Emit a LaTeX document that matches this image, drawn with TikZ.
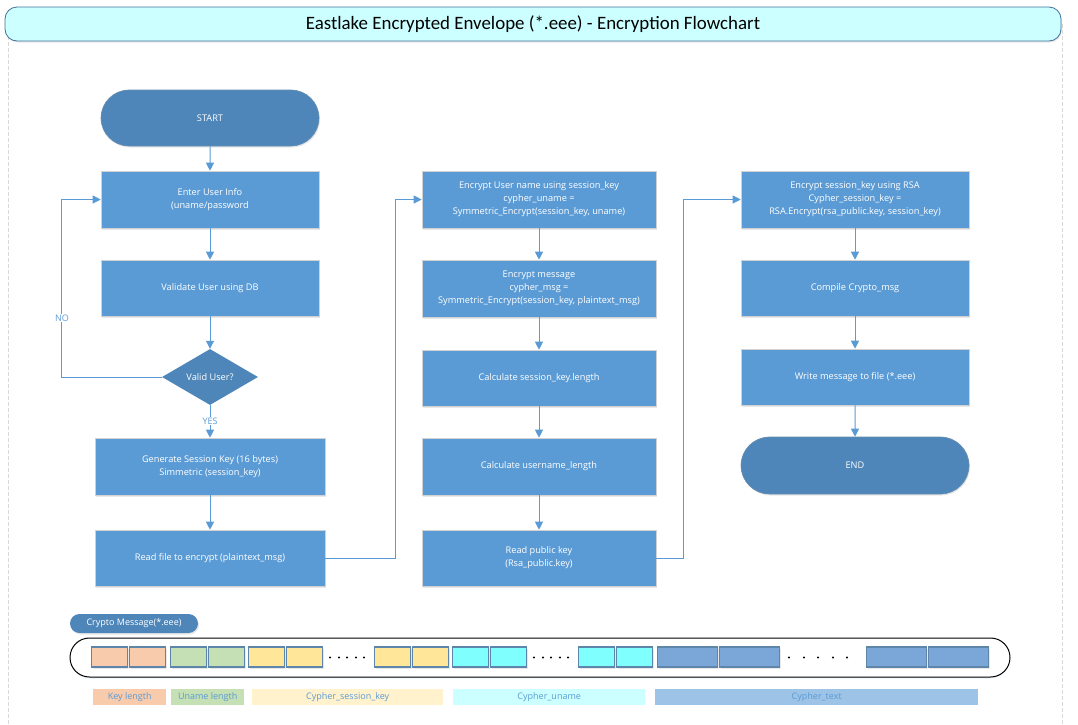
\documentclass[tikz,border=0pt]{standalone}
\usepackage{fontspec}
\setmainfont{Open Sans}
\newfontfamily\titlefont{Carlito}
\usetikzlibrary{shapes.geometric,shapes.misc,arrows.meta,shadows,calc}
\definecolor{boxblue}{HTML}{5B9BD5}
\definecolor{darkblue}{HTML}{4E86B9}
\definecolor{edgeblue}{HTML}{41719C}
\definecolor{titlefill}{HTML}{CCFFFF}
\definecolor{framegray}{HTML}{D9D9D9}
\definecolor{cOrange}{HTML}{F8CBAD}
\definecolor{cGreen}{HTML}{C5E0B4}
\definecolor{cYellow}{HTML}{FFE699}
\definecolor{cCyan}{HTML}{80FFFF}
\definecolor{cBlue}{HTML}{7BA7D8}
\definecolor{lYellow}{HTML}{FFF2CC}
\definecolor{lCyan}{HTML}{CCFFFF}
\definecolor{lBlue}{HTML}{9DC3E6}
\tikzset{
  softshadow/.style={drop shadow={shadow xshift=1pt,shadow yshift=-1.5pt,opacity=0.18,fill=gray}},
  boxfont/.style={font=\fontsize{9.2}{13}\selectfont},
  procbox/.style={rectangle, fill=boxblue, draw=gray!35, line width=0.6pt, text=white,
    boxfont, align=center, inner sep=0pt, softshadow},
  term/.style={rounded rectangle, fill=darkblue, draw=edgeblue!80, line width=0.6pt, text=white,
    boxfont, inner sep=0pt, softshadow},
  decision/.style={diamond, aspect=1.7, fill=darkblue, draw=none, text=white,
    boxfont, inner sep=0pt, minimum width=96pt, minimum height=56pt},
  arr/.style={draw=boxblue, line width=1pt, -{Triangle[width=8pt,length=8pt]}},
  lbl/.style={text=boxblue, fill=white, font=\fontsize{9}{10}\selectfont, inner sep=1pt},
  cell/.style={rectangle, draw=edgeblue!85, line width=1.3pt, inner sep=0pt, minimum height=20pt, softshadow},
  legend/.style={rectangle, inner sep=0pt, minimum height=16pt, text=boxblue, font=\fontsize{9}{10}\selectfont},
  dotmark/.style={circle, fill=black, inner sep=0pt, minimum size=2.4pt},
}
\begin{document}
\begin{tikzpicture}[x=1pt,y=-1pt]
\useasboundingbox (0,0) rectangle (1078,724);
% frame
\draw[framegray, dash pattern=on 4pt off 2pt, line width=0.7pt] (8,24) -- (8,724);
\draw[framegray, dash pattern=on 4pt off 2pt, line width=0.7pt] (1062,24) -- (1062,724);
% title
\node[rectangle, rounded corners=12pt, fill=titlefill, draw=edgeblue, line width=0.8pt,
  minimum width=1056pt, minimum height=34pt, inner sep=0pt, softshadow,
  font=\titlefont\fontsize{18.9}{20}\selectfont] (title) at (533,24) {Eastlake Encrypted Envelope (*.eee) - Encryption Flowchart};

% column 1
\node[term, minimum width=218pt, minimum height=56pt] (start) at (210,118) {START};
\node[procbox, minimum width=218pt, minimum height=57pt] (enter) at (210,199.5) {Enter User Info\\(uname/password};
\node[procbox, minimum width=218pt, minimum height=56pt] (valid) at (210,288) {Validate User using DB};
\node[decision] (dec) at (210,377) {Valid User?};
\node[procbox, minimum width=230pt, minimum height=57pt] (gen) at (210,466.5) {Generate Session Key (16 bytes)\\Simmetric (session\_key)};
\node[procbox, minimum width=230pt, minimum height=56pt] (readf) at (210,558) {Read file to encrypt (plaintext\_msg)};

% column 2
\node[procbox, minimum width=234pt, minimum height=57pt] (encu) at (539,199.5) {Encrypt User name using session\_key\\cypher\_uname =\\Symmetric\_Encrypt(session\_key, uname)};
\node[procbox, minimum width=234pt, minimum height=57pt] (encm) at (539,288.5) {Encrypt message\\cypher\_msg =\\Symmetric\_Encrypt(session\_key, plaintext\_msg)};
\node[procbox, minimum width=234pt, minimum height=56pt] (calck) at (539,378) {Calculate session\_key.length};
\node[procbox, minimum width=234pt, minimum height=57pt] (calcu) at (539,466.5) {Calculate username\_length};
\node[procbox, minimum width=234pt, minimum height=56pt] (readk) at (539,558) {Read public key\\(Rsa\_public.key)};

% column 3
\node[procbox, minimum width=228pt, minimum height=57pt] (encs) at (855,199.5) {Encrypt session\_key using RSA\\Cypher\_session\_key =\\RSA.Encrypt(rsa\_public.key, session\_key)};
\node[procbox, minimum width=228pt, minimum height=56pt] (comp) at (855,288) {Compile Crypto\_msg};
\node[procbox, minimum width=228pt, minimum height=56pt] (write) at (855,377) {Write message to file (*.eee)};
\node[term, minimum width=228pt, minimum height=57pt] (endn) at (855,465.5) {END};

% connectors
\draw[arr] (start) -- (enter);
\draw[arr] (enter) -- (valid);
\draw[arr] (valid) -- (dec);
\draw[arr] (dec) -- (gen);
\draw[arr] (dec.west) -| ([xshift=-39pt]enter.west) -- (enter.west);
\draw[arr] (gen) -- (readf);
\draw[arr] (readf.east) -- ([xshift=-26pt]encu.west |- readf.east) |- (encu.west);
\draw[arr] (encu) -- (encm);
\draw[arr] (encm) -- (calck);
\draw[arr] (calck) -- (calcu);
\draw[arr] (calcu) -- (readk);
\draw[arr] (readk.east) -- ([xshift=-57pt]encs.west |- readk.east) |- (encs.west);
\draw[arr] (encs) -- (comp);
\draw[arr] (comp) -- (write);
\draw[arr] (write) -- (endn);
\node[lbl] (no) at (62,318) {NO};
\node[lbl] (yes) at (210,421) {YES};

% crypto message
\node[rounded rectangle, fill=darkblue, text=white, inner sep=0pt, minimum width=128pt, minimum height=19pt,
  font=\fontsize{9}{10}\selectfont, softshadow] (cm) at (134,623.5) {Crypto Message(*.eee)};
\node[rounded rectangle, draw=black, line width=1pt, fill=white, inner sep=0pt, minimum width=940pt, minimum height=39pt,
  drop shadow={shadow xshift=0pt,shadow yshift=-1.5pt,opacity=0.12,fill=boxblue}] (msg) at (540,657.5) {};
\foreach \x/\w/\c [count=\i] in {91/36/cOrange,129/36/cOrange,170/36/cGreen,208/36/cGreen,248/36/cYellow,286/36/cYellow,
  374/36/cYellow,412/36/cYellow,452/36/cCyan,490/36/cCyan,578/36/cCyan,616/36/cCyan,
  657/60/cBlue,719/60/cBlue,866/60/cBlue,928/60/cBlue}
  \node[cell, fill=\c, minimum width=\w pt, anchor=west] (cell\i) at (\x,657) {};
\foreach \x [count=\i] in {330,339,347,356,364, 534,543,551,560,568, 789,804,818,833,847}
  \node[dotmark] (dot\i) at (\x,657.5) {};

% legend
\node[legend, fill=cOrange, minimum width=73pt, anchor=west] (lg1) at (93,697) {Key length};
\node[legend, fill=cGreen, minimum width=73pt, anchor=west] (lg2) at (171,697) {Uname length};
\node[legend, fill=lYellow, minimum width=191pt, anchor=west] (lg3) at (252,697) {Cypher\_session\_key};
\node[legend, fill=lCyan, minimum width=192pt, anchor=west] (lg4) at (453,697) {Cypher\_uname};
\node[legend, fill=lBlue, minimum width=323pt, anchor=west] (lg5) at (655,697) {Cypher\_text};
\end{tikzpicture}
\end{document}
